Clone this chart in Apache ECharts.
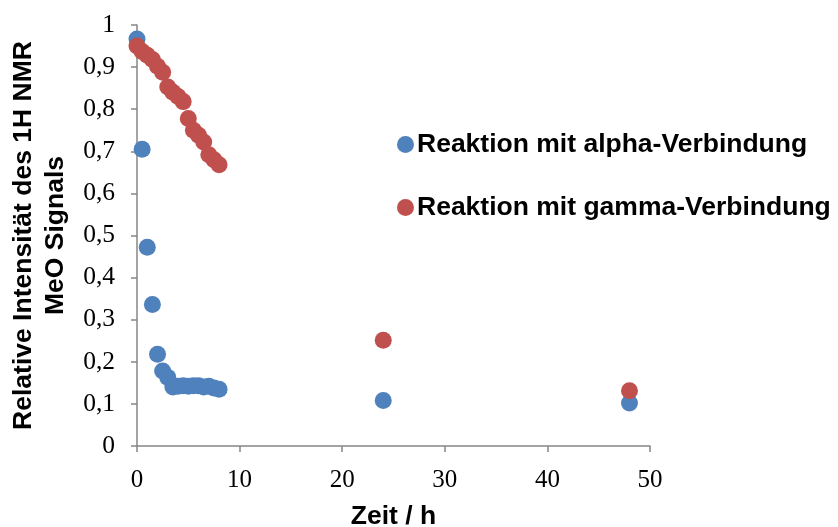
<!DOCTYPE html>
<html>
<head>
<meta charset="utf-8">
<script src="https://cdn.jsdelivr.net/npm/echarts@6/dist/echarts.min.js"></script>
<style>html,body{margin:0;padding:0;background:#fff}#c{width:838px;height:527px}</style>
</head>
<body>
<div id="c"></div>
<script>
const alphaTimes = [0, 0.5, 1, 1.5, 2, 2.5, 3, 3.5, 4, 4.5, 5, 5.5, 6, 6.5, 7, 7.5, 8, 24, 48];
const alphaValues = [0.967, 0.705, 0.472, 0.336, 0.218, 0.178, 0.163, 0.14, 0.142, 0.143, 0.142, 0.143, 0.143, 0.14, 0.142, 0.138, 0.135, 0.108, 0.102];
const gammaTimes = [0, 0.5, 1, 1.5, 2, 2.5, 3, 3.5, 4, 4.5, 5, 5.5, 6, 6.5, 7, 7.5, 8, 24, 48];
const gammaValues = [0.95, 0.937, 0.928, 0.918, 0.902, 0.888, 0.853, 0.84, 0.83, 0.818, 0.778, 0.75, 0.738, 0.722, 0.692, 0.68, 0.668, 0.251, 0.131];
const seriesNames = ['Reaktion mit alpha-Verbindung', 'Reaktion mit gamma-Verbindung'];
const xAxisName = 'Zeit / h';
const yAxisName = 'Relative Intensität des 1H NMR\nMeO Signals';

const pairs = (xs, ys) => xs.map((x, i) => [x, ys[i]]);
const chart = echarts.init(document.getElementById('c'), null, {renderer: 'canvas'});
const axisCommon = {
  axisLine: {show: true, lineStyle: {color: '#868686', width: 1.5}},
  axisTick: {show: true, inside: false, length: 6, lineStyle: {color: '#868686', width: 1.5}},
  splitLine: {show: false},
  nameTextStyle: {fontFamily: 'Liberation Sans', fontWeight: 'bold', fontSize: 26.5, color: '#000'}
};
chart.setOption({
  animation: false,
  backgroundColor: '#fff',
  grid: {left: 137, top: 25, right: 188, bottom: 81, outerBoundsMode: 'none', containLabel: false},
  legend: {
    orient: 'vertical', left: 392, top: 126, itemWidth: 17, itemHeight: 17, itemGap: 36,
    icon: 'circle',
    textStyle: {fontFamily: 'Liberation Sans', fontWeight: 'bold', fontSize: 26.5, color: '#000', lineHeight: 26, padding: [0,0,0,-2]},
    data: seriesNames
  },
  xAxis: Object.assign({}, axisCommon, {
    type: 'value', min: 0, max: 50, interval: 10,
    name: xAxisName, nameLocation: 'middle', nameGap: 57,
    axisLabel: {fontFamily: 'Liberation Serif', fontSize: 25, color: '#000', margin: 22}
  }),
  yAxis: Object.assign({}, axisCommon, {
    type: 'value', min: 0, max: 1, interval: 0.1,
    name: yAxisName, nameLocation: 'middle', nameGap: 65,
    nameTextStyle: Object.assign({}, axisCommon.nameTextStyle, {lineHeight: 32}),
    axisLabel: {fontFamily: 'Liberation Serif', fontSize: 25.5, color: '#000', margin: 22,
      formatter: v => String(Math.round(v * 10) / 10).replace('.', ',')}
  }),
  series: [
    {name: seriesNames[0], type: 'scatter', symbolSize: 17, itemStyle: {color: '#4F81BD', opacity: 1}, data: pairs(alphaTimes, alphaValues)},
    {name: seriesNames[1], type: 'scatter', symbolSize: 17, itemStyle: {color: '#C0504D', opacity: 1}, data: pairs(gammaTimes, gammaValues)}
  ]
});
</script>
</body>
</html>
